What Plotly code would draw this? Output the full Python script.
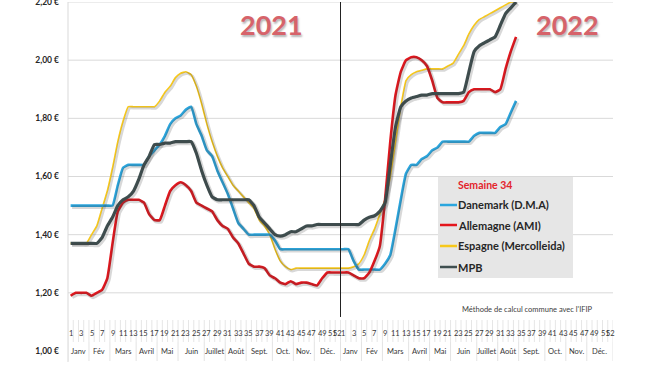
import plotly.graph_objects as go

# ---------------- data ----------------
years = ["2021", "2022"]
week_numbers = list(range(1, 53))
months = ["Janv", "Fév", "Mars", "Avril", "Mai", "Juin", "Juillet", "Août",
          "Sept.", "Oct.", "Nov.", "Déc."]
weeks_per_month = [4, 4, 5, 4, 4, 5, 4, 4, 5, 4, 4, 5]
week_tick_labels = list(range(1, 52, 2)) + [52]
y_ticks = [1.0, 1.2, 1.4, 1.6, 1.8, 2.0, 2.2]

categories = [f"{y}-S{w}" for y in years for w in week_numbers]

danemark = [
    1.50, 1.50, 1.50, 1.50, 1.50, 1.50, 1.50, 1.50, 1.50, 1.57,
    1.63, 1.64, 1.64, 1.64, 1.64, 1.67, 1.69, 1.71, 1.74, 1.78,
    1.80, 1.81, 1.83, 1.84, 1.78, 1.74, 1.69, 1.67, 1.62, 1.58,
    1.54, 1.49, 1.44, 1.42, 1.40, 1.40, 1.40, 1.40, 1.40, 1.38,
    1.35, 1.35, 1.35, 1.35, 1.35, 1.35, 1.35, 1.35, 1.35, 1.35,
    1.35, 1.35,
    1.35, 1.35, 1.31, 1.28, 1.28, 1.28, 1.28, 1.28, 1.30, 1.33,
    1.42, 1.52, 1.61, 1.64, 1.64, 1.66, 1.67, 1.69, 1.70, 1.72,
    1.72, 1.72, 1.72, 1.72, 1.72, 1.74, 1.75, 1.75, 1.75, 1.75,
    1.77, 1.78, 1.82, 1.86,
]
allemagne = [
    1.19, 1.20, 1.20, 1.20, 1.19, 1.20, 1.21, 1.25, 1.37, 1.48,
    1.51, 1.52, 1.52, 1.52, 1.51, 1.47, 1.45, 1.45, 1.50, 1.55,
    1.57, 1.58, 1.57, 1.55, 1.51, 1.50, 1.49, 1.48, 1.45, 1.43,
    1.42, 1.39, 1.37, 1.335, 1.30, 1.29, 1.29, 1.285, 1.26, 1.25,
    1.235, 1.23, 1.24, 1.23, 1.235, 1.235, 1.23, 1.225, 1.25, 1.27,
    1.27, 1.27,
    1.27, 1.27, 1.26, 1.25, 1.25, 1.27, 1.31, 1.36, 1.52, 1.72,
    1.88, 1.96, 2.00, 2.01, 2.01, 2.00, 1.98, 1.93, 1.87, 1.855,
    1.855, 1.855, 1.855, 1.86, 1.89, 1.90, 1.90, 1.90, 1.90, 1.89,
    1.90, 1.97, 2.03, 2.08,
]
espagne = [
    1.37, 1.37, 1.37, 1.37, 1.40, 1.43, 1.49, 1.55, 1.63, 1.72,
    1.79, 1.84, 1.84, 1.84, 1.84, 1.84, 1.84, 1.86, 1.89, 1.91,
    1.94, 1.955, 1.96, 1.95, 1.91, 1.85, 1.78, 1.72, 1.67, 1.63,
    1.60, 1.57, 1.55, 1.53, 1.51, 1.49, 1.45, 1.43, 1.40, 1.35,
    1.31, 1.29, 1.28, 1.285, 1.285, 1.285, 1.285, 1.285, 1.285, 1.285,
    1.285, 1.285,
    1.285, 1.285, 1.29, 1.30, 1.33, 1.38, 1.42, 1.47, 1.52, 1.60,
    1.72, 1.84, 1.93, 1.95, 1.96, 1.965, 1.97, 1.97, 1.97, 1.97,
    1.98, 1.99, 2.02, 2.05, 2.09, 2.12, 2.14, 2.15, 2.16, 2.17,
    2.18, 2.19, 2.20, 2.20,
]
mpb = [
    1.37, 1.37, 1.37, 1.37, 1.37, 1.37, 1.39, 1.43, 1.46, 1.50,
    1.52, 1.53, 1.55, 1.59, 1.64, 1.67, 1.71, 1.71, 1.715, 1.715,
    1.72, 1.72, 1.72, 1.72, 1.68, 1.62, 1.57, 1.53, 1.52, 1.52,
    1.52, 1.52, 1.52, 1.52, 1.52, 1.50, 1.46, 1.44, 1.42, 1.40,
    1.395, 1.40, 1.41, 1.41, 1.42, 1.43, 1.43, 1.435, 1.435, 1.435,
    1.435, 1.435,
    1.435, 1.435, 1.435, 1.435, 1.45, 1.46, 1.465, 1.48, 1.51, 1.64,
    1.77, 1.84, 1.86, 1.87, 1.875, 1.88, 1.88, 1.885, 1.885, 1.885,
    1.885, 1.885, 1.885, 1.89, 1.96, 2.03, 2.05, 2.06, 2.07, 2.08,
    2.12, 2.16, 2.18, 2.20,
]

series = [
    ("Danemark (D.M.A)", danemark, "#2ba6de", 2.6),
    ("Allemagne (AMI)", allemagne, "#e4161d", 2.6),
    ("Espagne (Mercolleida)", espagne, "#f7c81b", 1.6),
    ("MPB", mpb, "#3f4f50", 3.2),
]
draw_order = [2, 0, 1, 3]

FONT = "Lato"
fig = go.Figure()

n_cat = len(categories)
X_RANGE = [-0.5, n_cat - 0.5]
Y_RANGE = [1.0, 2.2]
# shadow offset (about 1.5 px right and down) realised through shifted overlay axes
dx = 1.5 / (545.0 / n_cat)
dy = 1.5 / (349.0 / (Y_RANGE[1] - Y_RANGE[0]))

for k in draw_order:
    name, vals, col, w = series[k]
    fig.add_trace(go.Scatter(
        x=categories[:len(vals)], y=vals, mode="lines", name=name + " ombre",
        line=dict(color="rgba(60,60,60,0.20)", width=w + 1.2, shape="spline",
                  smoothing=0.4),
        xaxis="x2", yaxis="y2", showlegend=False, hoverinfo="skip"))

for k in draw_order:
    name, vals, col, w = series[k]
    fig.add_trace(go.Scatter(
        x=categories[:len(vals)], y=vals, mode="lines", name=name,
        line=dict(color=col, width=w, shape="spline", smoothing=0.4),
        showlegend=False, hoverinfo="skip"))

shapes = []
annotations = []

PX = 349.0
def py(ypix):
    return (351 - ypix) / PX

def pxx(xpix):
    return (xpix - 68) / 545.0

# horizontal gridlines (not at 1.00)
for v in y_ticks[1:]:
    shapes.append(dict(type="line", xref="paper", yref="y", x0=0, x1=1,
                       y0=v, y1=v, line=dict(color="#d9d9d9", width=1),
                       layer="below"))

# vertical axis line down through the category table
shapes.append(dict(type="line", xref="paper", yref="paper", x0=0, x1=0,
                   y0=py(362), y1=1, line=dict(color="#d9d9d9", width=1),
                   layer="below"))

# year divider
shapes.append(dict(type="line", xref="x", yref="y", x0=51.5, x1=51.5,
                   y0=1.117, y1=2.2, line=dict(color="#222222", width=1)))

# category table lines
for k in range(n_cat + 1):
    shapes.append(dict(type="line", xref="x", yref="paper", x0=k - 0.5, x1=k - 0.5,
                       y0=py(320), y1=py(342), line=dict(color="#e6e6e6", width=1),
                       layer="below"))
bounds = [0]
for _ in years:
    for n in weeks_per_month:
        bounds.append(bounds[-1] + n)
for b in bounds:
    shapes.append(dict(type="line", xref="x", yref="paper", x0=b - 0.5, x1=b - 0.5,
                       y0=py(342), y1=py(361), line=dict(color="#e3e3e3", width=1),
                       layer="below"))

# week labels
for yi, yr in enumerate(years):
    for wk in week_tick_labels:
        annotations.append(dict(xref="x", yref="paper", x=yi * 52 + wk - 1, y=py(333),
                                text=str(wk), showarrow=False, xanchor="center",
                                yanchor="middle",
                                font=dict(family=FONT, size=7.5, color="#383838")))
    start = yi * 52
    for m, n in zip(months, weeks_per_month):
        annotations.append(dict(xref="x", yref="paper", x=start + (n - 1) / 2, y=py(351),
                                text=m, showarrow=False, xanchor="center",
                                yanchor="middle",
                                font=dict(family=FONT, size=7.5, color="#383838")))
        start += n

# year titles
for txt, xc in [("2021", 0.374), ("2022", 0.9156)]:
    annotations.append(dict(xref="paper", yref="paper", x=xc, y=py(25),
                            text=f"<b>{txt}</b>", showarrow=False,
                            xanchor="center", yanchor="middle",
                            font=dict(family=FONT, size=27, color="#d6636a",
                                      shadow="1px 2px 2px rgba(90,90,90,0.45)")))

# source note
annotations.append(dict(xref="paper", yref="paper", x=pxx(595), y=py(309),
                        text="Méthode de calcul commune avec l'IFIP", showarrow=False,
                        xanchor="right", yanchor="middle",
                        font=dict(family=FONT, size=7.5, color="#404040")))

# manual legend
shapes.append(dict(type="rect", xref="paper", yref="paper",
                   x0=pxx(438), x1=pxx(573), y0=py(278), y1=py(177),
                   fillcolor="#e6e6e6", line=dict(width=0), layer="above"))
annotations.append(dict(xref="paper", yref="paper", x=pxx(456), y=py(185),
                        text="<b>Semaine 34</b>", showarrow=False, xanchor="left",
                        yanchor="middle", font=dict(family=FONT, size=10.5, color="#e3242b")))
legend_y = [205, 225, 246, 267]
for (name, vals, col, w), ly in zip(series, legend_y):
    shapes.append(dict(type="line", xref="paper", yref="paper",
                       x0=pxx(440), x1=pxx(457), y0=py(ly), y1=py(ly),
                       line=dict(color=col, width=2.5), layer="above"))
    annotations.append(dict(xref="paper", yref="paper", x=pxx(456), y=py(ly),
                            text=f"<b>{name}</b>", showarrow=False, xanchor="left",
                            yanchor="middle",
                            font=dict(family=FONT, size=11, color="#262626")))

y_ticktext = [f"{v:.2f}".replace(".", ",") + " €" for v in y_ticks]

fig.update_layout(
    width=650, height=366,
    margin=dict(l=68, r=37, t=2, b=15, autoexpand=False),
    paper_bgcolor="white", plot_bgcolor="white",
    showlegend=False,
    shapes=shapes, annotations=annotations,
    xaxis=dict(type="category", categoryorder="array", categoryarray=categories,
               range=X_RANGE, showticklabels=False, showgrid=False,
               zeroline=False, ticks="", showline=False, fixedrange=True,
               automargin=False),
    yaxis=dict(range=Y_RANGE, tickvals=y_ticks, ticktext=y_ticktext,
               showgrid=False, zeroline=False, showline=False,
               ticks="", ticklabelstandoff=8, automargin=False,
               ticklabeloverflow="allow",
               tickfont=dict(family=FONT, size=8.5, color="#262626", weight="bold"),
               fixedrange=True),
    xaxis2=dict(type="category", categoryorder="array", categoryarray=categories,
                range=[X_RANGE[0] - dx, X_RANGE[1] - dx], overlaying="x",
                visible=False, fixedrange=True, automargin=False),
    yaxis2=dict(range=[Y_RANGE[0] + dy, Y_RANGE[1] + dy], overlaying="y",
                visible=False, fixedrange=True, automargin=False),
)

fig.write_html(
    "out.html",
    config={"displayModeBar": False},
    post_script="document.body.style.margin='0px';document.body.style.padding='0px';"
                "document.body.style.overflow='hidden';",
)
